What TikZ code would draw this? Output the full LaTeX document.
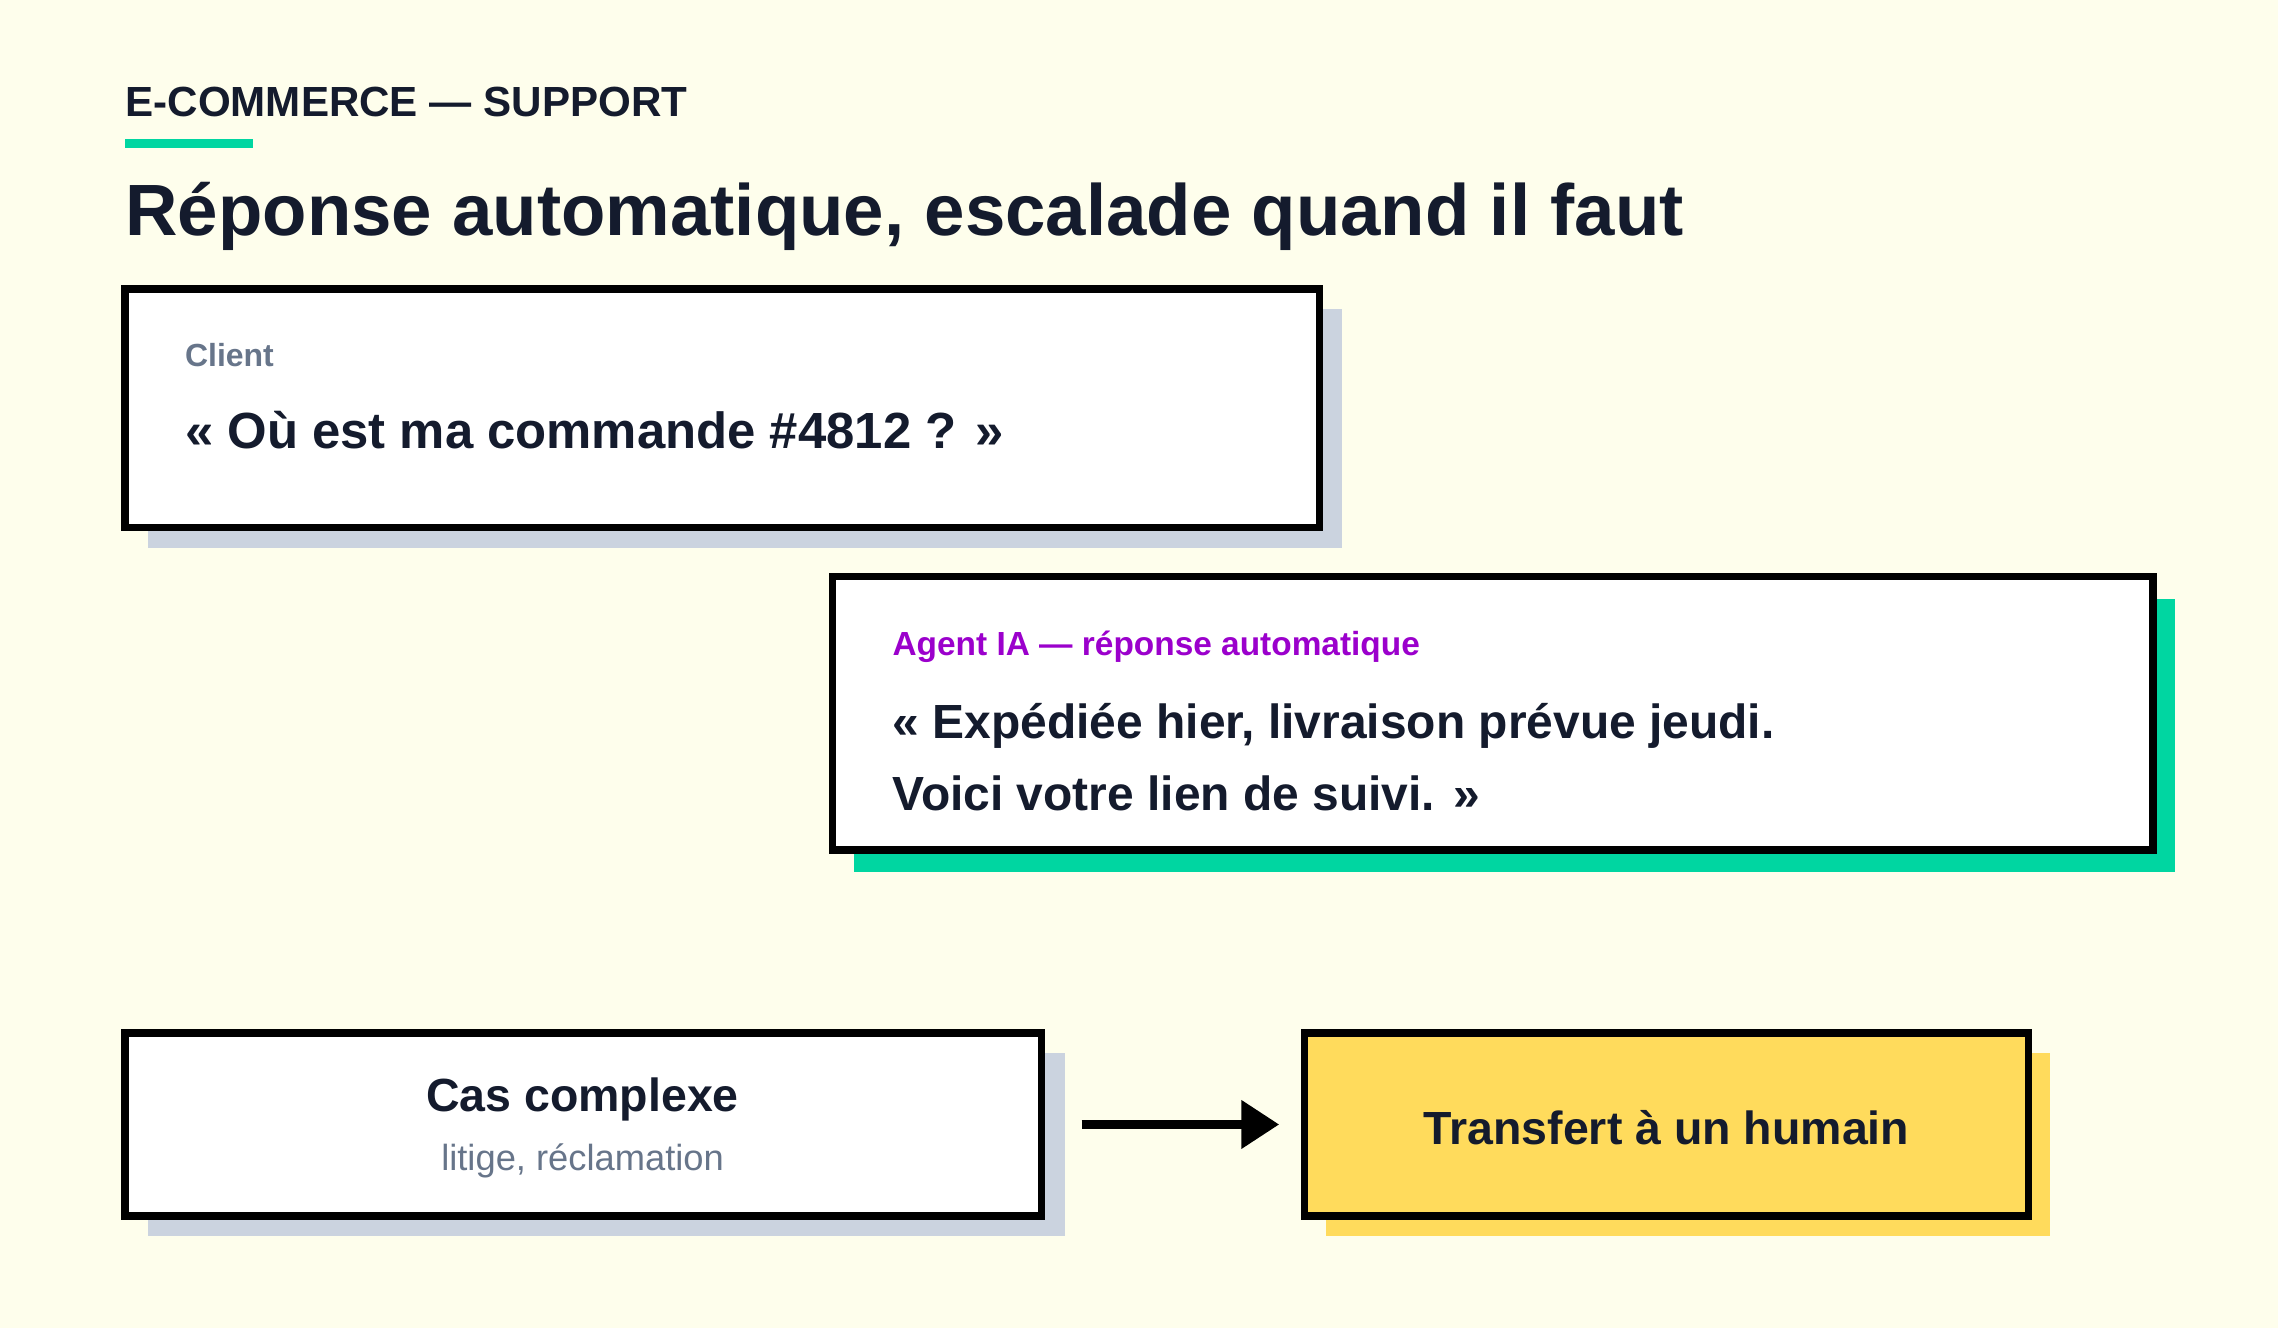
\documentclass[tikz,border=0pt]{standalone}
\usepackage{fontspec}
\setmainfont{Liberation Sans}
\usetikzlibrary{arrows.meta,positioning}
\definecolor{bgcream}{HTML}{FEFEEC}
\definecolor{inkdark}{HTML}{141B2D}
\definecolor{shadowgray}{HTML}{CBD3DF}
\definecolor{mintgreen}{HTML}{00D6A1}
\definecolor{labelgray}{HTML}{67758A}
\definecolor{agentpurple}{HTML}{9B00CC}
\definecolor{sunyellow}{HTML}{FFDB5C}
\tikzset{
  box/.style={draw=black,line width=2.5pt,fill=white,inner sep=0pt},
  shade/.style={inner sep=0pt},
  txt/.style={anchor=base west,inner sep=0pt,text=inkdark,font=\bfseries},
}
\begin{document}
\begin{tikzpicture}[x=0.5pt,y=0.5pt,yscale=-1,xscale=1]
  \fill[bgcream] (0,0) rectangle (1568,914);
  \useasboundingbox (0,0) rectangle (1568,914);

  % heading
  \node[txt,font=\bfseries\fontsize{14.5}{17}\selectfont] (kicker) at (86,80) {E-COMMERCE — SUPPORT};
  \fill[mintgreen] (86,96) rectangle (174,102);
  \node[txt,font=\bfseries\fontsize{25}{30}\selectfont] (title) at (86,162) {Réponse automatique, escalade quand il faut};

  % client message
  \node[shade,fill=shadowgray,minimum width=411pt,minimum height=82pt] (clientsh) at (513,295) {};
  \node[box,minimum width=411pt,minimum height=82pt] (client) at (497,281) {};
  \node[txt,text=labelgray,font=\bfseries\fontsize{11}{13}\selectfont] (clientlbl) at (127,252) {Client};
  \node[txt,font=\bfseries\fontsize{17.5}{21}\selectfont] (clientmsg) at (127,309) {« Où est ma commande \#4812 ? »};

  % agent reply
  \node[shade,fill=mintgreen,minimum width=454.5pt,minimum height=94pt] (agentsh) at (1042.5,506) {};
  \node[box,minimum width=454.5pt,minimum height=94pt] (agent) at (1027.5,491) {};
  \node[txt,text=agentpurple,font=\bfseries\fontsize{11.5}{14}\selectfont] (agentlbl) at (614,451) {Agent IA — réponse automatique};
  \node[txt,font=\bfseries\fontsize{16.5}{20}\selectfont] (agentl1) at (614,508) {« Expédiée hier, livraison prévue jeudi.};
  \node[txt,font=\bfseries\fontsize{16.5}{20}\selectfont] (agentl2) at (614,558) {Voici votre lien de suivi. »};

  % escalation
  \node[shade,fill=shadowgray,minimum width=315.5pt,minimum height=63pt] (cassh) at (417.5,788) {};
  \node[box,minimum width=315.5pt,minimum height=63pt] (cas) at (401.5,774) {};
  \node[anchor=base,inner sep=0pt,text=inkdark,font=\bfseries\fontsize{16}{19}\selectfont] (castitle) at (401,765) {Cas complexe};
  \node[anchor=base,inner sep=0pt,text=labelgray,font=\fontsize{12.5}{15}\selectfont] (cassub) at (401,806) {litige, réclamation};

  \node[shade,fill=sunyellow,minimum width=249pt,minimum height=63pt] (humsh) at (1162,788) {};
  \node[box,fill=sunyellow,minimum width=249pt,minimum height=63pt] (hum) at (1147,774) {};
  \node[anchor=base,inner sep=0pt,text=inkdark,font=\bfseries\fontsize{16}{19}\selectfont] (humtxt) at (1147,788) {Transfert à un humain};

  \draw[line width=3pt,-{Triangle[length=13pt,width=16pt]},shorten <=12.5pt,shorten >=7.5pt] (cas) -- (hum);
\end{tikzpicture}
\end{document}
